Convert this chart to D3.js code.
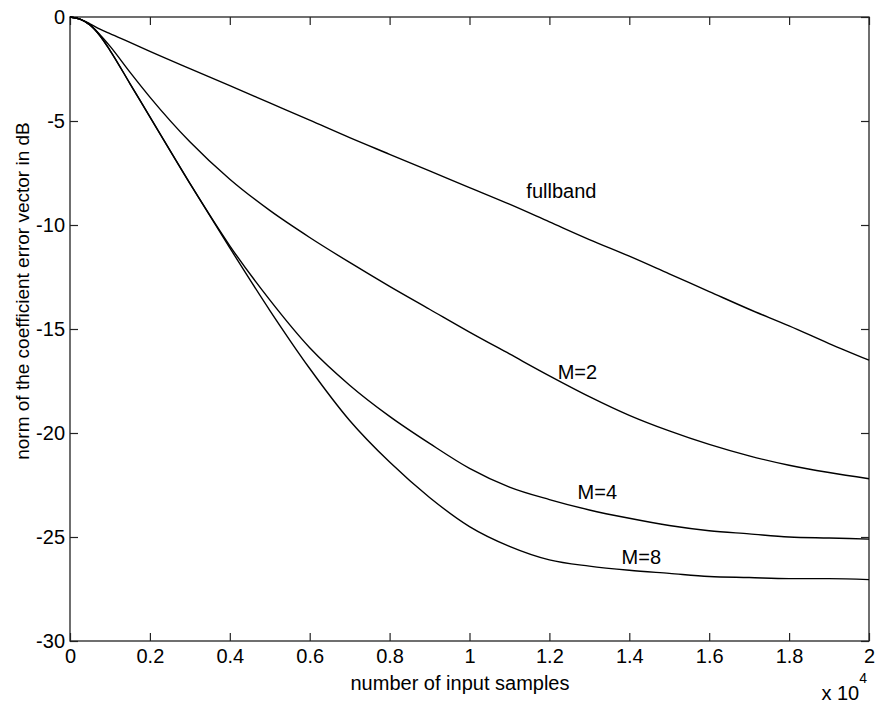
<!DOCTYPE html>
<html>
<head>
<meta charset="utf-8">
<script src="https://cdn.jsdelivr.net/npm/d3@7"></script>
<style>
  body { margin: 0; background: #fff; }
  text { font-family: "Liberation Sans", Arial, sans-serif; fill: #000; }
</style>
</head>
<body>
<div id="chart"></div>
<script>
// samples in units of 10^4
var xs = [0, 0.025, 0.05, 0.075, 0.1, 0.15, 0.2, 0.3, 0.4, 0.5, 0.6, 0.7, 0.8, 0.9, 1.0,
          1.1, 1.2, 1.3, 1.4, 1.5, 1.6, 1.7, 1.8, 1.9, 2.0];

var fullband = [0, -0.1, -0.33, -0.58, -0.8, -1.22, -1.65, -2.48, -3.3, -4.13, -4.96, -5.8, -6.6, -7.4, -8.2,
                -9.0, -9.85, -10.7, -11.5, -12.35, -13.2, -14.05, -14.85, -15.7, -16.5];
var m2 = [0, -0.1, -0.38, -0.85, -1.4, -2.65, -3.85, -6.0, -7.8, -9.3, -10.6, -11.8, -12.95, -14.05, -15.15,
          -16.2, -17.25, -18.25, -19.15, -19.9, -20.55, -21.1, -21.55, -21.9, -22.2];
var m4 = [0, -0.1, -0.38, -0.9, -1.6, -3.2, -4.8, -8.0, -11.0, -13.6, -15.9, -17.7, -19.2, -20.5, -21.7,
          -22.6, -23.2, -23.7, -24.1, -24.45, -24.7, -24.85, -25.0, -25.05, -25.1];
var m8 = [0, -0.1, -0.38, -0.9, -1.6, -3.2, -4.8, -8.0, -11.1, -14.1, -16.9, -19.4, -21.4, -23.1, -24.5,
          -25.45, -26.1, -26.4, -26.6, -26.75, -26.9, -26.95, -27.0, -27.0, -27.05];

var series = [
  { name: "fullband", values: fullband, lx: 1.23, ly: -8.7 },
  { name: "M=2", values: m2, lx: 1.27, ly: -17.4 },
  { name: "M=4", values: m4, lx: 1.32, ly: -23.15 },
  { name: "M=8", values: m8, lx: 1.43, ly: -26.3 }
];

var xTicks = [0, 0.2, 0.4, 0.6, 0.8, 1, 1.2, 1.4, 1.6, 1.8, 2];
var yTicks = [0, -5, -10, -15, -20, -25, -30];

var W = 877, H = 703;
var margin = { top: 17, right: 8, bottom: 62, left: 70 },
    width = W - margin.left - margin.right,
    height = H - margin.top - margin.bottom;

var svg = d3.select("#chart").append("svg")
    .attr("width", W)
    .attr("height", H);

var g = svg.append("g")
    .attr("transform", "translate(" + margin.left + "," + margin.top + ")");

var x = d3.scaleLinear().domain([0, 2]).range([0, width]);
var y = d3.scaleLinear().domain([-30, 0]).range([height, 0]);

var fmt = d => String(d);

g.append("g")
    .attr("transform", "translate(0," + height + ")")
    .call(d3.axisBottom(x).tickValues(xTicks).tickFormat(fmt)
        .tickSizeInner(-8).tickSizeOuter(0).tickPadding(8));

g.append("g")
    .call(d3.axisLeft(y).tickValues(yTicks).tickFormat(fmt)
        .tickSizeInner(-8).tickSizeOuter(0).tickPadding(5));

g.append("g")
    .call(d3.axisTop(x).tickValues(xTicks).tickFormat("")
        .tickSizeInner(-8).tickSizeOuter(0));

g.append("g")
    .attr("transform", "translate(" + width + ",0)")
    .call(d3.axisRight(y).tickValues(yTicks).tickFormat("")
        .tickSizeInner(-8).tickSizeOuter(0));

g.selectAll(".domain").remove();
g.selectAll(".tick line").attr("stroke", "#222").attr("stroke-width", 1.2);
g.selectAll(".tick text")
    .style("font-size", "20px")
    .style("font-family", "'Liberation Sans', Arial, sans-serif");

g.append("rect")
    .attr("width", width)
    .attr("height", height)
    .attr("fill", "none")
    .attr("stroke", "#222")
    .attr("stroke-width", 1.3);

var line = d3.line()
    .x((d, i) => x(xs[i]))
    .y(d => y(d))
    .curve(d3.curveMonotoneX);

g.selectAll("path.curve")
    .data(series)
    .enter().append("path")
    .attr("class", "curve")
    .attr("d", d => line(d.values))
    .attr("fill", "none")
    .attr("stroke", "#000")
    .attr("stroke-width", 1.4);

g.selectAll("text.lbl")
    .data(series)
    .enter().append("text")
    .attr("class", "lbl")
    .attr("x", d => x(d.lx))
    .attr("y", d => y(d.ly))
    .attr("text-anchor", "middle")
    .style("font-size", "20px")
    .text(d => d.name);

svg.append("text")
    .attr("x", 460)
    .attr("y", 690)
    .attr("text-anchor", "middle")
    .style("font-size", "20px")
    .text("number of input samples");

svg.append("text")
    .attr("transform", "translate(29,291) rotate(-90)")
    .attr("text-anchor", "middle")
    .style("font-size", "19px")
    .text("norm of the coefficient error vector in dB");

var ex = svg.append("text")
    .attr("x", 867)
    .attr("y", 700)
    .attr("text-anchor", "end")
    .style("font-size", "20px");
ex.append("tspan").text("x 10");
ex.append("tspan")
    .attr("dy", -17)
    .style("font-size", "14px")
    .text("4");
</script>
</body>
</html>
